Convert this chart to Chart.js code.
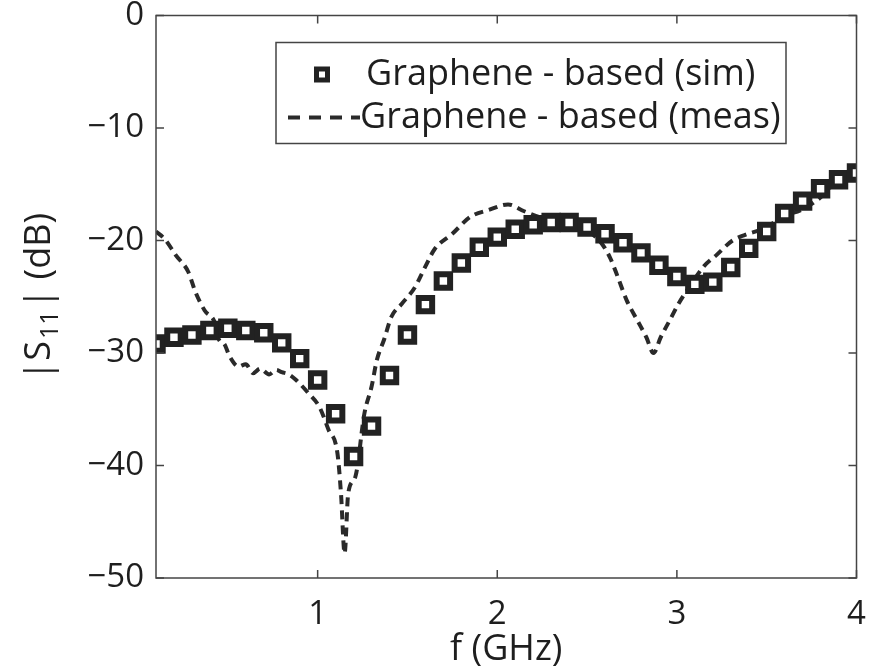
<!DOCTYPE html>
<html>
<head>
<meta charset="utf-8">
<script src="https://cdn.jsdelivr.net/npm/chart.js@4.4.1/dist/chart.umd.min.js"></script>
<style>
  html, body { margin: 0; padding: 0; background: #fff; }
  #wrap { width: 872px; height: 671px; }
</style>
</head>
<body>
<div id="wrap"><canvas id="s11Chart" width="872" height="671"></canvas></div>
<script>
// ---- data ----
const simFreq = [0.1, 0.2, 0.3, 0.4, 0.5, 0.6, 0.7, 0.8, 0.9, 1.0,
                 1.1, 1.2, 1.3, 1.4, 1.5, 1.6, 1.7, 1.8, 1.9, 2.0,
                 2.1, 2.2, 2.3, 2.4, 2.5, 2.6, 2.7, 2.8, 2.9, 3.0,
                 3.1, 3.2, 3.3, 3.4, 3.5, 3.6, 3.7, 3.8, 3.9, 4.0];
const simS11 = [-29.2, -28.6, -28.4, -28.0, -27.8, -28.0, -28.2, -29.1, -30.5, -32.4,
                -35.4, -39.2, -36.5, -32.0, -28.4, -25.7, -23.6, -22.0, -20.6, -19.7,
                -19.0, -18.6, -18.4, -18.4, -18.8, -19.4, -20.2, -21.1, -22.2, -23.2,
                -23.9, -23.7, -22.4, -20.7, -19.2, -17.6, -16.5, -15.4, -14.6, -14.0];

const measFreq = [0.10, 0.15, 0.21, 0.28, 0.32, 0.37, 0.43, 0.45, 0.48, 0.51,
                  0.56, 0.60, 0.64, 0.68, 0.73, 0.77, 0.80, 0.84, 0.88, 0.95,
                  1.01, 1.06, 1.11, 1.13, 1.15, 1.17, 1.21, 1.26, 1.30, 1.33,
                  1.37, 1.41, 1.47, 1.54, 1.60, 1.65, 1.75, 1.85, 1.95, 2.06,
                  2.15, 2.25, 2.35, 2.45, 2.55, 2.60, 2.63, 2.67, 2.72, 2.78,
                  2.83, 2.87, 2.91, 2.96, 3.01, 3.07, 3.15, 3.22, 3.31, 3.38,
                  3.49, 3.60, 3.69, 3.79, 3.90, 4.00];
const measS11 = [-19.2, -19.9, -21.3, -22.8, -24.6, -26.2, -27.4, -28.8, -29.2, -30.3,
                 -31.2, -31.0, -31.8, -31.4, -31.9, -31.5, -31.7, -31.9, -32.4, -33.6,
                 -34.8, -36.8, -38.9, -42.5, -47.8, -42.5, -41.0, -35.4, -33.0, -30.6,
                 -28.8, -26.8, -25.6, -24.2, -22.3, -20.8, -19.4, -17.9, -17.3, -16.8,
                 -17.4, -18.0, -18.4, -18.9, -19.7, -20.7, -21.6, -23.2, -25.3, -27.1,
                 -28.6, -30.0, -28.6, -27.1, -25.6, -24.1, -22.3, -21.3, -20.0, -19.5,
                 -18.9, -17.8, -17.3, -16.3, -14.6, -14.0];

const xTickValues = [1, 2, 3, 4];
const yTickValues = [0, -10, -20, -30, -40, -50];
const seriesLabels = ['Graphene - based (sim)', 'Graphene - based (meas)'];

const INK = '#1e1e1e';
const FONT = '"Open Sans", "DejaVu Sans", sans-serif';

function toPoints(xs, ys) {
    return xs.map((x, i) => ({ x: x, y: ys[i] }));
}

function fmtMinus(v) {
    return v < 0 ? '\u2212' + Math.abs(v) : String(v);
}

// box, inward ticks on all four sides, axis title with subscript, legend
const matlabFrame = {
    id: 'matlabFrame',
    afterDraw(chart) {
        const ctx = chart.ctx;
        const a = chart.chartArea;
        const xs = chart.scales.x;
        const ys = chart.scales.y;
        ctx.save();
        ctx.strokeStyle = '#444';
        ctx.lineWidth = 1.5;
        ctx.strokeRect(a.left, a.top, a.right - a.left, a.bottom - a.top);

        const tl = 8;
        ctx.beginPath();
        xTickValues.forEach(v => {
            const px = xs.getPixelForValue(v);
            ctx.moveTo(px, a.bottom); ctx.lineTo(px, a.bottom - tl);
            ctx.moveTo(px, a.top); ctx.lineTo(px, a.top + tl);
        });
        yTickValues.forEach(v => {
            const py = ys.getPixelForValue(v);
            ctx.moveTo(a.left, py); ctx.lineTo(a.left + tl, py);
            ctx.moveTo(a.right, py); ctx.lineTo(a.right - tl, py);
        });
        ctx.stroke();

        // y title: |S11| (dB) with subscript
        ctx.fillStyle = INK;
        ctx.translate(40, (a.top + a.bottom) / 2);
        ctx.rotate(-Math.PI / 2);
        const big = '36px ' + FONT, small = '25px ' + FONT;
        ctx.font = big;
        const w1 = ctx.measureText('|S').width;
        const w3 = ctx.measureText('| (dB)').width;
        ctx.font = small;
        const w2 = ctx.measureText('11').width + 4;
        let x0 = -(w1 + w2 + w3) / 2;
        ctx.textBaseline = 'middle';
        ctx.font = big;
        ctx.fillText('|S', x0, 0);
        ctx.font = small;
        ctx.fillText('11', x0 + w1 + 2, 11);
        ctx.font = big;
        ctx.fillText('| (dB)', x0 + w1 + w2, 0);
        ctx.restore();

        // legend
        const sim = chart.data.datasets[0];
        const meas = chart.data.datasets[1];
        const lx = a.left + 120, ly = a.top + 27, lw = 510, lh = 101;
        ctx.save();
        ctx.fillStyle = '#fff';
        ctx.fillRect(lx, ly, lw, lh);
        ctx.strokeStyle = '#444';
        ctx.lineWidth = 1.5;
        ctx.strokeRect(lx, ly, lw, lh);

        const row1 = ly + 32, row2 = ly + 75;
        // sim sample
        ctx.fillStyle = sim.pointBorderColor;
        ctx.fillRect(lx + 38, row1 - 8, 16, 16);
        ctx.fillStyle = '#fff';
        ctx.fillRect(lx + 43, row1 - 3, 6, 6);
        // meas sample
        ctx.strokeStyle = meas.borderColor;
        ctx.lineWidth = 4;
        ctx.setLineDash([12, 9]);
        ctx.beginPath();
        ctx.moveTo(lx + 12, row2);
        ctx.lineTo(lx + 84, row2);
        ctx.stroke();
        ctx.setLineDash([]);

        ctx.fillStyle = INK;
        ctx.font = '36px ' + FONT;
        ctx.textBaseline = 'middle';
        ctx.fillText(seriesLabels[0], lx + 90, row1);
        ctx.fillText(seriesLabels[1], lx + 84, row2);
        ctx.restore();
    }
};

document.addEventListener('DOMContentLoaded', function() {
    const ctx = document.getElementById('s11Chart');
    new Chart(ctx, {
        type: 'line',
        data: {
            datasets: [{
                label: seriesLabels[0],
                data: toPoints(simFreq, simS11),
                showLine: false,
                pointStyle: 'rect',
                pointRadius: 9.5,
                pointBorderWidth: 6,
                pointBorderColor: '#222',
                pointBackgroundColor: '#fff',
                order: 1
            }, {
                label: seriesLabels[1],
                data: toPoints(measFreq, measS11),
                borderColor: '#2a2a2a',
                borderWidth: 4,
                borderDash: [9, 6],
                pointRadius: 0,
                cubicInterpolationMode: 'monotone',
                fill: false,
                order: 2
            }]
        },
        options: {
            responsive: false,
            animation: false,
            events: [],
            layout: { padding: { top: 15, right: 0, left: 0, bottom: 0 } },
            plugins: {
                legend: { display: false },
                tooltip: { enabled: false }
            },
            scales: {
                x: {
                    type: 'linear',
                    min: 0.1,
                    max: 4,
                    afterBuildTicks: s => { s.ticks = xTickValues.map(v => ({ value: v })); },
                    afterFit: s => { s.height = 93; s.paddingLeft = 0; s.paddingRight = 11; },
                    grid: { display: false, drawTicks: false },
                    border: { display: false },
                    ticks: {
                        color: INK,
                        font: { family: FONT, size: 33 },
                        padding: 17,
                        maxRotation: 0
                    },
                    title: {
                        display: true,
                        text: 'f (GHz)',
                        color: INK,
                        font: { family: FONT, size: 36 },
                        padding: 0
                    }
                },
                y: {
                    type: 'linear',
                    min: -50,
                    max: 0,
                    afterBuildTicks: s => { s.ticks = yTickValues.map(v => ({ value: v })); },
                    afterFit: s => { s.width = 156; s.paddingTop = 0; s.paddingBottom = 0; },
                    grid: { display: false, drawTicks: false },
                    border: { display: false },
                    ticks: {
                        color: INK,
                        font: { family: FONT, size: 33 },
                        padding: 12,
                        callback: v => fmtMinus(v)
                    }
                }
            }
        },
        plugins: [matlabFrame]
    });
});
</script>
</body>
</html>
